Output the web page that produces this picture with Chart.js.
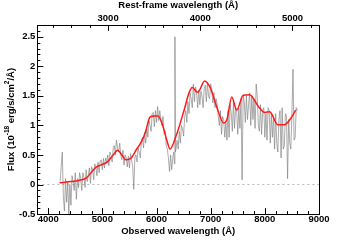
<!DOCTYPE html>
<html><head><meta charset="utf-8">
<script src="https://cdn.jsdelivr.net/npm/chart.js@4/dist/chart.umd.min.js"></script>
<style>html,body{margin:0;padding:0;background:#fff}#c{display:block}</style>
</head><body>
<canvas id="c" width="355" height="240"></canvas>
<script>
const redshift = 0.702;
const obsTicks = [4000, 5000, 6000, 7000, 8000, 9000];
const restTicks = [3000, 4000, 5000];
const fluxTicks = [-0.5, 0, 0.5, 1, 1.5, 2, 2.5];

const specWave = [
4220,4240,4260,4280,4300,4320,4340,4360,4380,4400,
4420,4440,4460,4480,4500,4520,4540,4560,4580,4600,
4620,4640,4660,4680,4700,4720,4740,4760,4780,4800,
4820,4840,4860,4880,4900,4920,4940,4960,4980,5000,
5020,5040,5060,5080,5100,5120,5140,5160,5180,5200,
5220,5240,5260,5280,5300,5320,5340,5360,5380,5400,
5420,5440,5460,5480,5500,5520,5540,5560,5580,5600,
5620,5640,5660,5680,5700,5720,5740,5760,5780,5800,
5820,5840,5860,5880,5900,5920,5940,5960,5980,6000,
6020,6040,6060,6080,6100,6120,6140,6160,6180,6200,
6220,6240,6260,6280,6300,6320,6330,6340,6350,6360,6380,6400,
6420,6440,6460,6480,6500,6520,6540,6560,6580,6600,
6620,6640,6660,6680,6700,6720,6740,6760,6780,6800,
6820,6840,6860,6880,6900,6920,6940,6960,6980,7000,
7020,7040,7060,7080,7100,7120,7140,7160,7180,7200,
7220,7240,7260,7280,7300,7320,7340,7360,7380,7400,
7420,7440,7460,7480,7500,7520,7540,7560,7580,7600,
7620,7640,7660,7680,7700,7720,7740,7760,7780,7800,
7820,7840,7860,7880,7900,7920,7940,7960,7980,8000,
8020,8040,8060,8080,8100,8120,8140,8160,8180,8200,
8220,8240,8260,8280,8300,8320,8340,8360,8380,8400,
8420,8440,8460,8480,8500,8520,8540,8560,8580,8600];
const specFlux = [
0.05,0.3,0.55,-0.2,-0.45,0.1,-0.3,0.05,-0.5,0.0,
-0.35,0.15,0.05,-0.1,0.2,-0.25,0.1,-0.05,0.2,0.1,
-0.1,0.2,0.12,-0.05,0.25,0.05,0.15,0.28,0.02,0.3,
0.25,0.08,0.35,0.3,0.15,0.38,0.2,0.4,0.42,0.25,
0.44,0.28,0.45,0.38,0.5,0.32,0.55,0.5,0.38,0.62,
0.66,0.5,0.75,0.62,0.55,0.7,0.5,0.42,0.58,0.33,
0.5,0.45,0.3,0.48,0.28,0.52,0.42,0.3,-0.08,0.45,
0.5,0.38,0.62,0.55,0.45,0.72,0.8,0.62,0.88,0.7,
0.95,0.8,1.08,1.0,0.9,1.2,1.22,0.98,1.25,1.05,
1.32,1.08,1.25,1.1,1.0,1.15,0.85,0.9,0.65,0.6,
0.45,0.22,0.5,0.25,0.45,0.55,0.35,2.5,0.55,0.6,0.75,0.6,
0.9,0.7,1.0,0.95,0.82,1.15,1.25,1.05,1.4,1.2,
1.55,1.45,1.3,1.7,1.4,1.65,1.55,1.3,1.6,1.35,
1.58,1.5,1.3,1.62,1.68,1.4,1.72,1.5,1.45,1.7,
1.62,1.38,1.55,1.3,1.45,1.35,1.15,1.0,1.25,0.85,
1.15,1.1,0.8,1.05,0.75,1.25,0.8,1.35,1.2,0.9,
1.4,0.95,1.3,1.25,0.85,1.3,0.95,1.45,0.08,1.5,
1.4,1.05,1.5,1.1,1.35,1.55,1.0,1.5,1.1,1.45,
0.95,1.7,1.5,1.0,0.9,1.35,0.85,1.25,1.3,0.8,
1.2,0.75,1.3,1.25,0.7,1.2,0.8,1.15,0.6,1.2,
0.7,0.55,1.1,1.25,0.45,1.3,0.6,0.65,1.2,1.15,
0.1,1.1,0.7,0.6,1.2,1.95,0.75,0.8,1.3,1.25];

const modelWave = [4210,4420,4560,4700,4880,5000,5090,5200,5280,5360,5430,5520,5640,5720,5790,5880,5960,6030,6120,6190,6250,6360,6510,6600,6660,6760,6890,7000,7120,7240,7300,7390,7480,7600,7720,7880,8000,8090,8240,8360,8480,8570];
const modelFlux = [0.03,0.05,0.07,0.11,0.29,0.34,0.38,0.50,0.58,0.50,0.42,0.44,0.61,0.72,0.87,1.14,1.16,1.16,0.98,0.75,0.60,0.82,1.26,1.55,1.64,1.56,1.75,1.62,1.29,1.04,1.10,1.48,1.26,1.51,1.52,1.32,1.22,1.23,1.01,1.01,1.12,1.26];

const xMin = 3800, xMax = 9000, yMin = -0.5, yMax = 2.7;
const zeroLine = [{x: xMin, y: 0}, {x: xMax, y: 0}];

const pts = (w, f) => w.map((v, i) => ({x: v, y: f[i]}));
const FONT = "'Liberation Sans', Arial, sans-serif";
const FS = 9.5;

const tickPlugin = {
  id: 'inTicks',
  afterDraw(chart) {
    const ctx = chart.ctx, a = chart.chartArea;
    const sx = chart.scales.x, sx2 = chart.scales.x2, sy = chart.scales.y;
    ctx.save();
    ctx.strokeStyle = '#000';
    ctx.lineWidth = 1;
    ctx.beginPath();
    for (let v = 4000; v <= xMax; v += 200) {
      const p = Math.round(sx.getPixelForValue(v)) + 0.5;
      const L = (v % 1000 === 0) ? 6 : 3;
      ctx.moveTo(p, a.bottom); ctx.lineTo(p, a.bottom - L);
    }
    for (let v = 2400; v <= 5200; v += 200) {
      const p = Math.round(sx2.getPixelForValue(v)) + 0.5;
      if (p < a.left || p > a.right) continue;
      const L = (v % 1000 === 0) ? 6 : 3;
      ctx.moveTo(p, a.top); ctx.lineTo(p, a.top + L);
    }
    for (let k = -5; k <= 27; k++) {
      const v = k / 10;
      const p = Math.round(sy.getPixelForValue(v)) + 0.5;
      const L = (k % 5 === 0) ? 6 : 3;
      ctx.moveTo(a.left, p); ctx.lineTo(a.left + L, p);
    }
    ctx.stroke();
    ctx.strokeRect(Math.round(a.left) + 0.5, Math.round(a.top) + 0.5, Math.round(a.right - a.left), Math.round(a.bottom - a.top));

    // y-axis title with real superscripts
    const parts = [['Flux (10', false], ['-18', true], [' erg/s/cm', false], ['2', true], ['/Å)', false]];
    const big = 'bold ' + FS + 'px ' + FONT, small = 'bold 6.5px ' + FONT;
    let total = 0;
    for (const [t, sup] of parts) { ctx.font = sup ? small : big; total += ctx.measureText(t).width; }
    ctx.translate(11, (a.top + a.bottom) / 2);
    ctx.rotate(-Math.PI / 2);
    ctx.fillStyle = '#000';
    ctx.textBaseline = 'middle';
    ctx.textAlign = 'left';
    let xp = -total / 2;
    for (const [t, sup] of parts) {
      ctx.font = sup ? small : big;
      ctx.fillText(t, xp, sup ? -3.5 : 0);
      xp += ctx.measureText(t).width;
    }
    ctx.restore();
  }
};

new Chart(document.getElementById('c'), {
  type: 'line',
  data: {
    datasets: [
      {data: pts(modelWave, modelFlux), borderColor: '#ff1a1a', borderWidth: 1.5, pointRadius: 0, cubicInterpolationMode: 'monotone', fill: false},
      {data: pts(specWave, specFlux), borderColor: 'rgba(128,128,128,0.65)', borderWidth: 1, pointRadius: 0, tension: 0, fill: false},
      {data: zeroLine, borderColor: '#b8b8b8', borderWidth: 1, borderDash: [2, 3], pointRadius: 0, fill: false}
    ]
  },
  options: {
    responsive: false,
    animation: false,
    layout: {padding: {left: 17, right: 36, top: 0, bottom: 3}},
    plugins: {legend: {display: false}, tooltip: {enabled: false}},
    scales: {
      x: {
        type: 'linear', position: 'bottom', min: xMin, max: xMax,
        afterBuildTicks: s => { s.ticks = obsTicks.map(v => ({value: v})); },
        grid: {display: false, drawTicks: false}, border: {display: false},
        ticks: {color: '#000', padding: 1, maxRotation: 0, font: {family: FONT, size: FS, weight: 'bold', lineHeight: 1}, callback: v => String(v)},
        title: {display: true, text: 'Observed wavelength (Å)', color: '#000', padding: {top: 0, bottom: 0}, font: {family: FONT, size: FS, weight: 'bold', lineHeight: 1.2}}
      },
      x2: {
        type: 'linear', position: 'top', min: xMin / (1 + redshift), max: xMax / (1 + redshift),
        afterBuildTicks: s => { s.ticks = restTicks.map(v => ({value: v})); },
        grid: {display: false, drawTicks: false}, border: {display: false},
        ticks: {color: '#000', padding: 2, maxRotation: 0, font: {family: FONT, size: FS, weight: 'bold', lineHeight: 1}, callback: v => String(v)},
        title: {display: true, text: 'Rest-frame wavelength (Å)', color: '#000', padding: {top: 0, bottom: 0}, font: {family: FONT, size: FS, weight: 'bold', lineHeight: 1.2}}
      },
      y: {
        type: 'linear', min: yMin, max: yMax,
        afterBuildTicks: s => { s.ticks = fluxTicks.map(v => ({value: v})); },
        grid: {display: false, drawTicks: false}, border: {display: false},
        ticks: {color: '#000', padding: 2, font: {family: FONT, size: FS, weight: 'bold', lineHeight: 1}, callback: v => String(v)},
        title: {display: false}
      }
    }
  },
  plugins: [tickPlugin]
});
</script>
</body></html>
